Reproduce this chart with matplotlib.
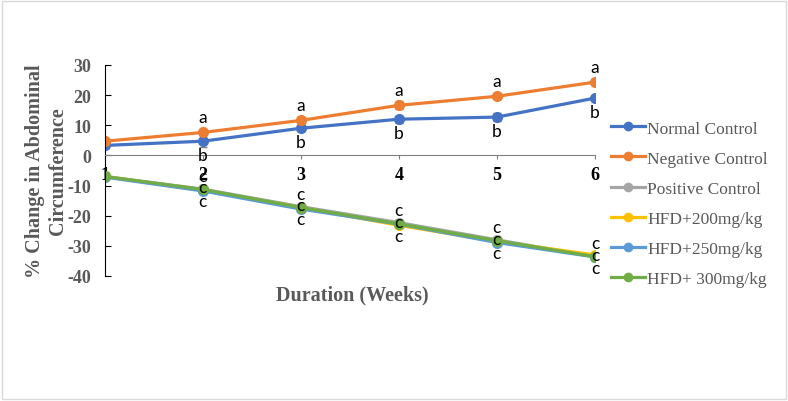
import matplotlib
matplotlib.use("Agg")
import matplotlib.pyplot as plt
from matplotlib.patches import Rectangle
from matplotlib.lines import Line2D

plt.rcParams["axes.unicode_minus"] = False

weeks = [1, 2, 3, 4, 5, 6]
series = ["Normal Control", "Negative Control", "Positive Control",
          "HFD+200mg/kg", "HFD+250mg/kg", "HFD+ 300mg/kg"]
normal = [3.3, 4.7, 9.0, 12.0, 12.7, 19.0]
negative = [4.7, 7.6, 11.6, 16.6, 19.6, 24.3]
positive = [-7.0, -11.2, -17.0, -22.3, -28.0, -33.6]
hfd200 = [-7.0, -11.6, -17.3, -23.2, -28.6, -33.0]
hfd250 = [-7.2, -11.8, -17.8, -22.8, -28.9, -33.7]
hfd300 = [-7.0, -11.3, -17.3, -22.7, -28.3, -33.6]
err_normal = [0.8, 2.0, 1.0, 1.2, 1.3, 0.8]
err_negative = [0.5, 0.8, 1.0, 1.3, 0.8, 1.0]
err_low = [0.5, 0.8, 0.8, 0.8, 0.8, 1.0]

colors = ["#4472C4", "#ED7D31", "#A5A5A5", "#FFC000", "#5B9BD5", "#70AD47"]
values = [normal, negative, positive, hfd200, hfd250, hfd300]
errs = [err_normal, err_negative, err_low, err_low, err_low, err_low]

fig = plt.figure(figsize=(7.88, 4.02), dpi=100)
ax = fig.add_axes([0.133, 0.311, 0.622, 0.525])

handles = []
for vals, e, c, name in zip(values, errs, colors, series):
    ax.errorbar(weeks, vals, yerr=e, color=c, ecolor="#7f7f7f", elinewidth=1,
                capsize=3, capthick=1, marker="o", markersize=7, linewidth=2.3)
    handles.append(Line2D([], [], color=c, marker="o", markersize=6, linewidth=2.3, label=name))

# significance letters
lf = dict(ha="center", va="center", fontsize=12.5, family="Lato", textcoords="offset points")
for i, w in enumerate(weeks[1:], start=1):
    ax.annotate("a", (w, negative[i]), xytext=(0, 11), **lf)
    ax.annotate("b", (w, normal[i]), xytext=(0, -10), **lf)
    for dy in (10, 1.5, -8.5):
        ax.annotate("c", (w, hfd300[i]), xytext=(0, dy), **lf)

ax.set_xlim(1, 6)
ax.set_ylim(-40, 30)
ax.set_yticks(range(-40, 31, 10))
ax.set_xticks(weeks)
ax.spines["top"].set_visible(False)
ax.spines["right"].set_visible(False)
ax.spines["bottom"].set_position(("data", 0))
ax.spines["bottom"].set_color("#7f7f7f")
ax.tick_params(axis="y", direction="in", length=4, labelsize=13, labelcolor="#595959", pad=9.5)
ax.tick_params(axis="x", direction="out", length=3, labelsize=13, pad=5, color="#7f7f7f")
for t in ax.get_yticklabels() + ax.get_xticklabels():
    t.set_fontweight("bold")
    t.set_family("Liberation Serif")

ax.set_ylabel("% Change in Abdominal\nCircumference", fontsize=14.5, fontweight="bold",
              color="#595959", family="Liberation Serif", labelpad=0, linespacing=1.2)
fig.text(0.447, 0.265, "Duration (Weeks)", ha="center", va="center", fontsize=14.5,
         fontweight="bold", color="#595959", family="Liberation Serif")

leg = ax.legend(handles=handles, loc="upper left", bbox_to_anchor=(0.755, 0.737),
                bbox_transform=fig.transFigure, frameon=False, handlelength=2.0,
                handletextpad=0.1, labelspacing=0.8,
                prop={"family": "Liberation Serif", "size": 12.5})
for t in leg.get_texts():
    t.set_color("#595959")

fig.patches.append(Rectangle((0.002, 0.004), 0.996, 0.992, transform=fig.transFigure,
                             fill=False, edgecolor="#d9d9d9", linewidth=1))

fig.savefig("out.png", dpi=100)
